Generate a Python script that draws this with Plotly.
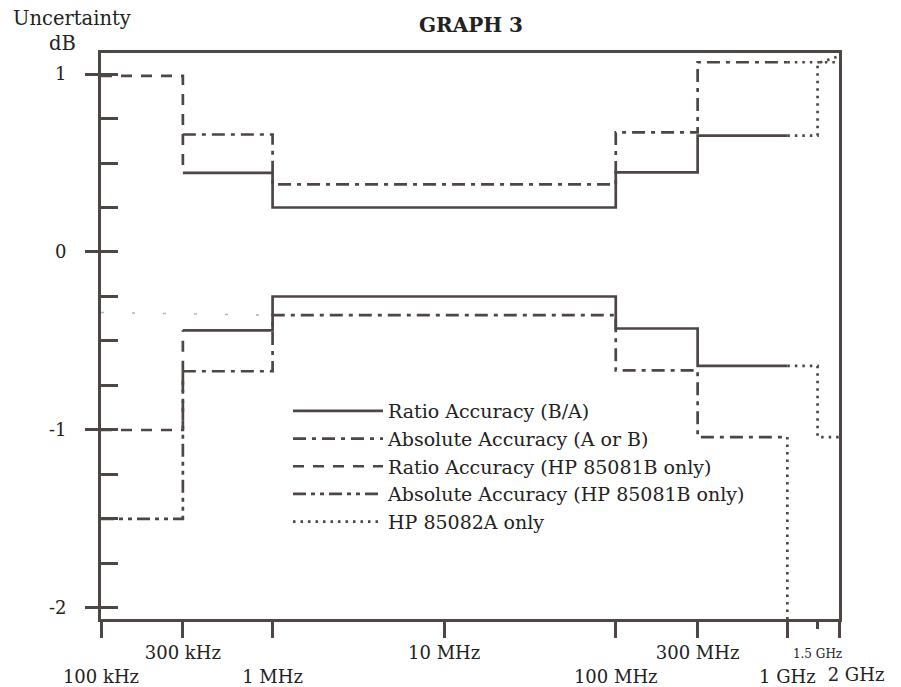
import math
import plotly.graph_objects as go

# ---------------- data ----------------
# main band breakpoints (Hz), step levels (dB)
f_main = [3e5, 1e6, 1e8, 3e8, 1e9]
ratio_upper = [0.445, 0.25, 0.447, 0.654, 0.654]
ratio_lower = [-0.44, -0.25, -0.43, -0.64, -0.64]
abs_upper = [0.66, 0.38, 0.672, 1.066, 1.066]
abs_lower = [-0.67, -0.355, -0.665, -1.04, -1.04]

# HP 85081B only (100 kHz - 300 kHz)
f_low = [1e5, 3e5, 3e5]
ratio_b_upper = [0.99, 0.99, 0.445]
ratio_b_lower = [-1.0, -1.0, -0.44]
abs_b_lower = [-1.5, -1.5, -0.67]

# HP 85082A only (1 GHz - 2 GHz)
f_82_ratio = [1e9, 1.5e9, 1.5e9, 2e9]
hp82_ratio_upper = [0.654, 0.654, 1.06, 1.1]
hp82_ratio_lower = [-0.64, -0.64, -1.04, -1.04]
f_82_abs_upper = [1e9, 2e9]
hp82_abs_upper = [1.066, 1.066]
f_82_abs_lower = [1e9, 1e9]
hp82_abs_lower = [-1.04, -2.1]

# faint printed trace (scan)
f_faint = [1e5, 1e6]
faint_vals = [-0.34, -0.355]

# axis ticks
x_tickvals = [1e5, 3e5, 1e6, 1e7, 1e8, 3e8, 1e9, 2e9]
x_ticktext = ["<br>100 kHz", "300 kHz", "<br>1 MHz", "10 MHz", "<br>100 MHz",
              "300 MHz", "<br>1 GHz", ""]
x_small_tickvals = [1.5e9]
x_small_ticktext = ["1.5 GHz"]
x_end_tickvals = [2e9]
x_end_ticktext = ["<br>2 GHz"]
y_tickvals = [-2, -1, 0, 1]
y_ticktext = ["-2", "-1", "0", "1"]

legend_names = ["Ratio Accuracy (B/A)", "Absolute Accuracy (A or B)",
                "Ratio Accuracy (HP 85081B only)", "Absolute Accuracy (HP 85081B only)",
                "HP 85082A only"]

# ---------------- styling ----------------
LC = "#4e4545"
TC = "#222222"
FONT = "DejaVu Serif"
LW = 2.7
W, H = 893, 679          # page adds an 8 px body margin
OFF = 8
L, R, T, B = 101 - OFF, 62, 53 - OFF, 68
PW, PH = W - L - R, H - T - B


def px_to_paper_x(px):
    return (px - OFF - L) / PW


def px_to_paper_y(py):
    return (H - B - (py - OFF)) / PH


def join(*segs):
    xs, ys = [], []
    for i, (sx, sy) in enumerate(segs):
        if i:
            xs.append(None)
            ys.append(None)
        xs += list(sx)
        ys += list(sy)
    return xs, ys


fig = go.Figure()

fx, fy = join((f_faint, faint_vals))
fig.add_trace(go.Scatter(x=fx, y=fy, mode="lines", showlegend=False, hoverinfo="skip",
                         xaxis="x3",
                         line=dict(color="#b9b2b2", width=1.6, dash="3px,28px")))

x, y = join((f_main, ratio_upper), (f_main, ratio_lower))
fig.add_trace(go.Scatter(x=x, y=y, mode="lines", name=legend_names[0], line_shape="hv",
                         line=dict(color=LC, width=LW)))

x, y = join((f_main, abs_upper), (f_main, abs_lower))
fig.add_trace(go.Scatter(x=x, y=y, mode="lines", name=legend_names[1], line_shape="hv",
                         line=dict(color=LC, width=LW, dash="13px,6px,4px,6px")))

x, y = join((f_low, ratio_b_upper), (f_low, ratio_b_lower))
fig.add_trace(go.Scatter(x=x, y=y, mode="lines", name=legend_names[2],
                         line=dict(color=LC, width=LW, dash="11px,9px")))

x, y = join((f_low, abs_b_lower))
fig.add_trace(go.Scatter(x=x, y=y, mode="lines", name=legend_names[3],
                         line=dict(color=LC, width=LW, dash="13px,5px,4px,5px,4px,5px")))

x, y = join((f_82_ratio, hp82_ratio_upper), (f_82_ratio, hp82_ratio_lower),
            (f_82_abs_upper, hp82_abs_upper), (f_82_abs_lower, hp82_abs_lower))
fig.add_trace(go.Scatter(x=x, y=y, mode="lines", name=legend_names[4], xaxis="x2",
                         line=dict(color=LC, width=LW, dash="2.5px,5px")))

xr = [math.log10(1e5), math.log10(2e9)]
yr = [-2.062, 1.118]

fig.update_layout(
    width=W, height=H,
    margin=dict(l=L, r=R, t=T, b=B, autoexpand=False),
    paper_bgcolor="white", plot_bgcolor="white",
    font=dict(family=FONT, color=TC, size=18),
    title=dict(text="<b>GRAPH 3</b>", x=(471 - OFF) / W, xref="container", xanchor="center",
               y=1 - (25 - OFF) / H, yref="container", yanchor="middle",
               font=dict(family=FONT, size=20, color=TC)),
    showlegend=True,
    legend=dict(x=px_to_paper_x(288), y=px_to_paper_y(392), xanchor="left", yanchor="top",
                bgcolor="rgba(0,0,0,0)", itemwidth=90, traceorder="normal",
                font=dict(family=FONT, size=19, color=TC)),
    xaxis=dict(type="log", range=xr, tickmode="array", tickvals=x_tickvals, ticktext=x_ticktext,
               ticks="outside", ticklen=16, tickwidth=LW, tickcolor=LC,
               showline=True, linewidth=LW, linecolor=LC, mirror=True,
               showgrid=False, zeroline=False, tickangle=0, automargin=False,
               tickfont=dict(family=FONT, size=18, color=TC)),
    xaxis2=dict(type="log", range=xr, overlaying="x", anchor="y", side="bottom",
                tickmode="array", tickvals=x_small_tickvals, ticktext=x_small_ticktext,
                ticks="outside", ticklen=9, tickwidth=LW, tickcolor=LC,
                ticklabelstandoff=15,
                showline=False, showgrid=False, zeroline=False, automargin=False,
                tickfont=dict(family=FONT, size=12, color=TC)),
    xaxis3=dict(type="log", range=xr, overlaying="x", anchor="y", side="bottom",
                tickmode="array", tickvals=x_end_tickvals, ticktext=x_end_ticktext,
                ticks="outside", ticklen=16, tickwidth=LW, tickcolor=LC,
                ticklabelshift=17,
                showline=False, showgrid=False, zeroline=False, automargin=False,
                tickfont=dict(family=FONT, size=18, color=TC)),
    yaxis=dict(range=yr, tickmode="array", tickvals=y_tickvals, ticktext=y_ticktext,
               ticks="outside", ticklen=13, tickwidth=LW, tickcolor=LC,
               ticklabelstandoff=15, automargin=False,
               minor=dict(ticks="inside", ticklen=17, tickwidth=LW, tickcolor=LC,
                          dtick=0.25, tick0=0, showgrid=False),
               showline=True, linewidth=LW, linecolor=LC, mirror=True,
               showgrid=False, zeroline=False,
               tickfont=dict(family=FONT, size=18, color=TC)),
    annotations=[
        dict(text="Uncertainty", xref="paper", yref="paper", x=px_to_paper_x(72),
             y=px_to_paper_y(18), xanchor="center", yanchor="middle", showarrow=False,
             font=dict(family=FONT, size=19.5, color=TC)),
        dict(text="dB", xref="paper", yref="paper", x=px_to_paper_x(62),
             y=px_to_paper_y(43), xanchor="center", yanchor="middle", showarrow=False,
             font=dict(family=FONT, size=19.5, color=TC)),
    ],
)

fig.write_html("out.html")
